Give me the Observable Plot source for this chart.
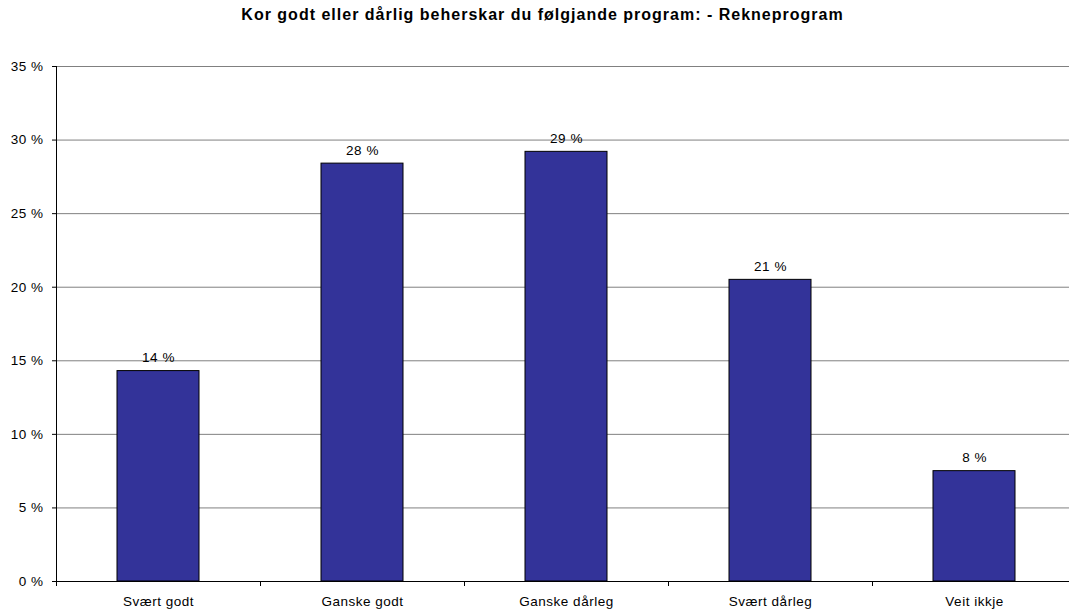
<!DOCTYPE html>
<html><head><meta charset="utf-8">
<script src="https://cdn.jsdelivr.net/npm/d3@7"></script>
<script src="https://cdn.jsdelivr.net/npm/@observablehq/plot@0.6"></script>
<style>
html,body{margin:0;padding:0;background:#fff;overflow:hidden;width:1069px;height:612px}
#title{box-sizing:border-box;height:30px;padding-top:6px;padding-left:16px;line-height:18px;text-align:center;font:bold 16px "Liberation Sans",Arial,sans-serif;letter-spacing:1px;color:#000;width:1069px;white-space:nowrap}
#chart svg{display:block;overflow:visible;max-width:none !important;width:1076px !important;height:582px !important}
</style></head>
<body>
<div id="title">Kor godt eller dårlig beherskar du følgjande program: - Rekneprogram</div>
<div id="chart"></div>
<script>
const categories = ["Svært godt", "Ganske godt", "Ganske dårleg", "Svært dårleg", "Veit ikkje"];
const values = [14.3, 28.4, 29.2, 20.5, 7.5];
const labels = ["14 %", "28 %", "29 %", "21 %", "8 %"];
const yTicks = [0, 5, 10, 15, 20, 25, 30, 35];

const data = categories.map((c, i) => ({cat: c, v: values[i], label: labels[i]}));
const font = '"Liberation Sans", Arial, sans-serif';

const axisLines = (index, scales, values, dims) => {
  const g = d3.create("svg:g");
  const x = scales.x, y = scales.y;
  const y0 = Math.round(y(0));
  g.append("line").attr("x1", dims.marginLeft + 0.5).attr("x2", dims.marginLeft + 0.5)
    .attr("y1", y(35)).attr("y2", y0 + 0.5).attr("stroke", "#000");
  g.append("line").attr("x1", dims.marginLeft).attr("x2", dims.width - dims.marginRight)
    .attr("y1", y0 + 0.5).attr("y2", y0 + 0.5).attr("stroke", "#000");
  const step = x.step ? x.step() : (x.bandwidth() / 0.4);
  const gap = step - x.bandwidth();
  const bounds = categories.map(c => x(c) - gap / 2);
  bounds.push(bounds[bounds.length - 1] + step);
  for (const b of bounds) {
    g.append("line").attr("x1", Math.round(b) + 0.5).attr("x2", Math.round(b) + 0.5)
      .attr("y1", y0).attr("y2", y0 + 5).attr("stroke", "#000");
  }
  return g.node();
};

const plot = Plot.plot({
  width: 1076,
  height: 582,
  marginTop: 36,
  marginBottom: 31,
  marginLeft: 56,
  marginRight: 0,
  style: {fontFamily: font, fontSize: "13.5px", color: "#000", background: "#fff", maxWidth: "none", letterSpacing: "0.5px"},
  x: {domain: categories, paddingInner: 0.6, paddingOuter: 0.3, label: null},
  y: {domain: [0, 35], ticks: yTicks, label: null},
  marks: [
    Plot.gridY(yTicks, {stroke: "#808080", strokeOpacity: 1}),
    Plot.axisY(yTicks, {tickFormat: d => d + " %", tickSize: 4, tickPadding: 9, fontSize: 13.5, stroke: "#000", label: null}),
    Plot.axisX({tickSize: 0, tickPadding: 15, fontSize: 13.5, label: null}),
    Plot.barY(data, {x: "cat", y: "v", fill: "#333399", stroke: "#000", strokeWidth: 1}),
    Plot.text(data, {x: "cat", y: "v", text: "label", lineAnchor: "bottom", dy: -9, fontSize: 13.5, fill: "#000"}),
    axisLines
  ]
});
document.getElementById("chart").appendChild(plot);
</script>
</body></html>
